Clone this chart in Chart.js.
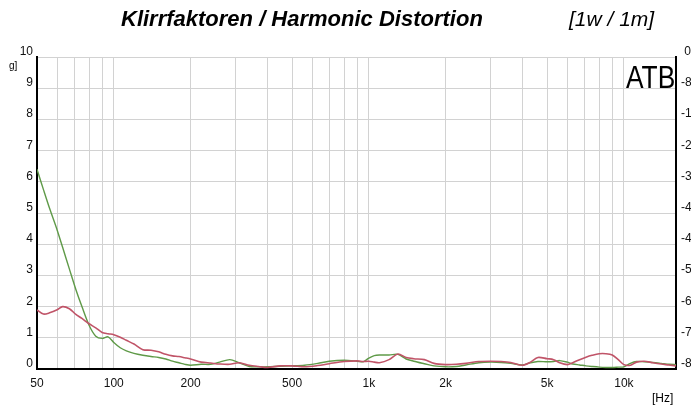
<!DOCTYPE html>
<html>
<head>
<meta charset="utf-8">
<script src="https://cdn.jsdelivr.net/npm/chart.js@4/dist/chart.umd.min.js"></script>
<style>
  html, body { margin: 0; padding: 0; background: #fff; }
  canvas { display: block; }
</style>
</head>
<body>
<canvas id="chart" width="691" height="407"></canvas>
<script>
// Data
const freqs = [50, 53, 56, 60, 63, 67, 71, 75, 80, 85, 90, 95, 100, 106, 112, 120, 130, 140, 150, 160, 170, 180, 190,
  200, 220, 240, 260, 285, 310, 340, 370, 400, 450, 500, 560, 630, 700, 800, 900, 950, 1000, 1050, 1100, 1200, 1300,
  1400, 1500, 1650, 1800, 2000, 2200, 2400, 2700, 3000, 3300, 3600, 4000, 4300, 4600, 5000, 5300, 5600, 6000, 6300,
  6700, 7100, 7500, 8000, 8500, 9000, 9500, 10000, 10600, 11200, 12000, 13000, 14000, 15000, 16000];

const redValues = [1.89, 1.76, 1.8, 1.9, 2.0, 1.93, 1.75, 1.62, 1.45, 1.32, 1.17, 1.13, 1.1, 1.02, 0.92, 0.8, 0.62, 0.6, 0.55, 0.47, 0.42, 0.4, 0.36,
  0.32, 0.22, 0.19, 0.16, 0.15, 0.2, 0.12, 0.08, 0.05, 0.1, 0.1, 0.07, 0.11, 0.17, 0.24, 0.26, 0.24, 0.25, 0.22, 0.2, 0.3, 0.48,
  0.37, 0.33, 0.3, 0.18, 0.14, 0.15, 0.18, 0.24, 0.25, 0.24, 0.21, 0.12, 0.22, 0.37, 0.33, 0.3, 0.2, 0.14, 0.2,
  0.3, 0.38, 0.44, 0.49, 0.49, 0.45, 0.3, 0.14, 0.12, 0.22, 0.25, 0.2, 0.16, 0.13, 0.1];

const greenValues = [6.4, 5.75, 5.15, 4.45, 3.9, 3.2, 2.55, 2.0, 1.4, 1.05, 0.98, 1.03, 0.85, 0.68, 0.58, 0.5, 0.44, 0.4, 0.37, 0.32, 0.25, 0.2, 0.15,
  0.12, 0.15, 0.15, 0.22, 0.3, 0.2, 0.08, 0.07, 0.07, 0.09, 0.1, 0.12, 0.18, 0.25, 0.28, 0.25, 0.23, 0.35, 0.43, 0.45, 0.45, 0.47,
  0.32, 0.25, 0.17, 0.1, 0.07, 0.08, 0.13, 0.2, 0.22, 0.21, 0.18, 0.13, 0.2, 0.24, 0.23, 0.24, 0.27, 0.22, 0.16,
  0.13, 0.1, 0.08, 0.06, 0.05, 0.05, 0.06, 0.07, 0.18, 0.24, 0.23, 0.21, 0.18, 0.15, 0.14];

// Axis ticks
const gridFreqs = [50, 60, 70, 80, 90, 100, 200, 300, 400, 500, 600, 700, 800, 900, 1000,
  2000, 3000, 4000, 5000, 6000, 7000, 8000, 9000, 10000];
const xLabelValues = [50, 100, 200, 500, 1000, 2000, 5000, 10000];
const xLabelTexts = ['50', '100', '200', '500', '1k', '2k', '5k', '10k'];
const leftLabels = ['0', '1', '2', '3', '4', '5', '6', '7', '8', '9', '10'];
const rightLabels = ['-8', '-7', '-6', '-5', '-4', '-4', '-3', '-2', '-1', '-8', ' 0'];

const fontFamily = '"Liberation Sans", Arial, sans-serif';
const tickFont = { family: fontFamily, size: 12, lineHeight: 0.9 };

// Titles and extra labels
const textPlugin = {
  id: 'texts',
  afterDraw(chart) {
    const c = chart.ctx;
    c.save();
    c.fillStyle = '#000';
    c.textBaseline = 'middle';
    c.textAlign = 'left';
    c.font = 'italic bold 22px ' + fontFamily;
    c.fillText('Klirrfaktoren / Harmonic Distortion', 121, 20);
    c.font = 'italic 21px ' + fontFamily;
    c.fillText('[1w / 1m]', 569, 20);

    c.font = '12px ' + fontFamily;
    c.fillText('[Hz]', 652, 399);
    c.font = '10px ' + fontFamily;
    c.fillText('g]', 9, 66);

    // ATB logo
    c.save();
    c.translate(626, 79);
    c.scale(0.85, 1);
    c.font = '31px ' + fontFamily;
    c.fillText('ATB', 0, 0);
    c.restore();
    c.restore();
  }
};

new Chart(document.getElementById('chart'), {
  type: 'line',
  data: {
    datasets: [
      {
        label: 'red',
        data: freqs.map((f, i) => ({ x: f, y: redValues[i] })),
        borderColor: '#c05468',
        borderWidth: 1.6,
        pointRadius: 0,
        tension: 0.3,
        fill: false,
      },
      {
        label: 'green',
        data: freqs.map((f, i) => ({ x: f, y: greenValues[i] })),
        borderColor: '#5f9a48',
        borderWidth: 1.4,
        pointRadius: 0,
        tension: 0.3,
        fill: false,
      },
    ],
  },
  options: {
    responsive: false,
    animation: false,
    layout: { padding: { top: 57, left: 0, right: 0, bottom: 0 } },
    plugins: { legend: { display: false }, tooltip: { enabled: false } },
    scales: {
      x: {
        type: 'logarithmic',
        min: 50,
        max: 16000,
        afterBuildTicks: (scale) => { scale.ticks = gridFreqs.map(v => ({ value: v })); },
        afterFit: (scale) => { scale.height = 38; },
        grid: { color: '#d2d2d2', lineWidth: 1, drawTicks: false },
        border: { color: '#000', width: 2 },
        ticks: {
          autoSkip: false,
          maxRotation: 0,
          padding: 7,
          color: '#111',
          font: { family: fontFamily, size: 12 },
          callback: (value) => {
            const i = xLabelValues.indexOf(value);
            return i >= 0 ? xLabelTexts[i] : '';
          },
        },
      },
      y: {
        position: 'left',
        min: 0,
        max: 10,
        afterFit: (scale) => { scale.width = 37; },
        grid: { color: '#d2d2d2', lineWidth: 1, drawTicks: false },
        border: { color: '#000', width: 2 },
        ticks: {
          stepSize: 1,
          padding: 4,
          color: '#111',
          font: tickFont,
          callback: (value) => [leftLabels[value], ''],
        },
      },
      yRight: {
        position: 'right',
        min: 0,
        max: 10,
        afterFit: (scale) => { scale.width = 15; },
        grid: { display: false, drawTicks: false },
        border: { color: '#000', width: 2 },
        ticks: {
          stepSize: 1,
          padding: 5,
          color: '#111',
          font: tickFont,
          callback: (value) => [rightLabels[value], ''],
        },
      },
    },
  },
  plugins: [textPlugin],
});
</script>
</body>
</html>
